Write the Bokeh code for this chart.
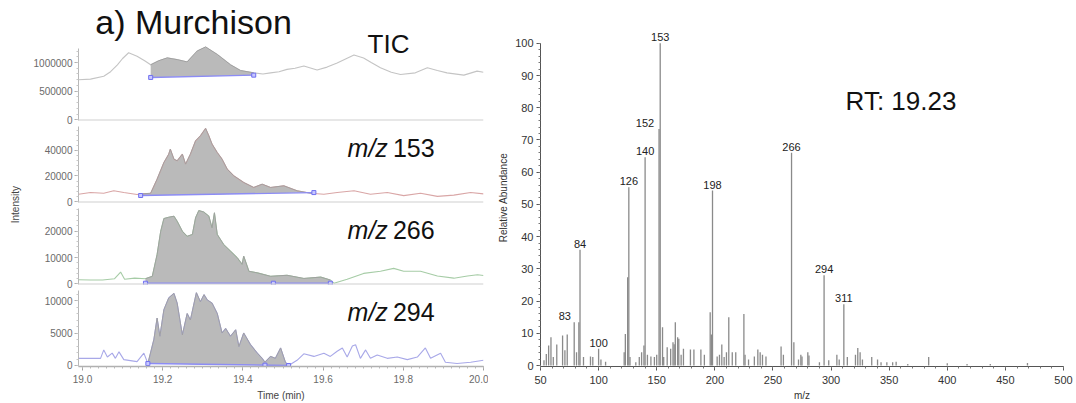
import numpy as np
from bokeh.plotting import figure
from bokeh.layouts import row, column
from bokeh.models import (Range1d, FixedTicker, NumeralTickFormatter, Label,
                          LabelSet, ColumnDataSource, Span, SingleIntervalTicker)
from bokeh.core.properties import value
from bokeh.embed import file_html
from bokeh.resources import INLINE

FONT = "Liberation Sans"

# ---------------- data ----------------
tic_t = [18.99, 19.02, 19.053, 19.07, 19.087, 19.10, 19.115, 19.136, 19.155, 19.170,
         19.19, 19.211, 19.236, 19.261, 19.286, 19.307, 19.336, 19.369, 19.394, 19.427,
         19.45, 19.469, 19.49, 19.510, 19.530, 19.552, 19.585, 19.61, 19.635, 19.677,
         19.701, 19.72, 19.743, 19.77, 19.793, 19.83, 19.860, 19.885, 19.909, 19.951,
         19.984, 20.0]
tic_v = [700000, 710000, 760000, 840000, 960000, 1070000, 1170000, 1110000, 1030000, 960000,
         1030000, 1080000, 1050000, 1010000, 1200000, 1270000, 1140000, 960000, 860000, 820000,
         800000, 820000, 840000, 880000, 900000, 940000, 870000, 920000, 990000, 1130000,
         1080000, 1000000, 910000, 830000, 790000, 820000, 910000, 860000, 820000, 780000,
         850000, 830000]

t153 = [18.99, 19.020, 19.053, 19.078, 19.103, 19.136, 19.150, 19.170, 19.186, 19.203,
        19.215, 19.219, 19.228, 19.236, 19.249, 19.257, 19.269, 19.282, 19.294, 19.307,
        19.315, 19.323, 19.336, 19.348, 19.361, 19.377, 19.402, 19.427, 19.448, 19.469,
        19.502, 19.535, 19.569, 19.602, 19.635, 19.677, 19.718, 19.760, 19.801, 19.843,
        19.885, 19.926, 19.968, 20.0]
v153 = [5700, 7100, 6500, 8400, 7100, 5500, 6000, 6500, 17500, 30600,
        37100, 41000, 33200, 31900, 37100, 29300, 37100, 47600, 51500, 57300,
        51500, 45000, 38400, 33200, 25300, 20200, 14900, 11000, 13600, 11000,
        12300, 8400, 6500, 5700, 7100, 8400, 5700, 7100, 4600, 6500,
        4000, 5000, 7100, 6000]

t266 = [18.99, 19.02, 19.05, 19.08, 19.095, 19.105, 19.13, 19.157, 19.174, 19.186,
        19.195, 19.203, 19.215, 19.228, 19.236, 19.249, 19.261, 19.274, 19.282, 19.290,
        19.302, 19.315, 19.323, 19.329, 19.336, 19.352, 19.369, 19.386, 19.398, 19.402,
        19.415, 19.436, 19.469, 19.510, 19.552, 19.594, 19.618, 19.627, 19.660, 19.701,
        19.743, 19.776, 19.801, 19.843, 19.885, 19.926, 19.960, 19.985, 20.0]
v266 = [1600, 1500, 1500, 2000, 4500, 1800, 2200, 2000, 2900, 11100,
        19900, 24700, 25200, 25600, 23700, 19900, 18000, 18700, 25000, 27700,
        27200, 25600, 21200, 26900, 18700, 14900, 12400, 9900, 7400, 10500,
        4800, 4200, 2900, 3300, 2100, 2600, 1500, 300, 1800, 4000,
        4800, 5900, 4800, 4800, 3000, 2200, 3000, 3500, 3200]

t294 = [18.99, 19.045, 19.053, 19.062, 19.074, 19.082, 19.091, 19.103, 19.136, 19.153,
        19.163, 19.178, 19.186, 19.193, 19.203, 19.215, 19.228, 19.236, 19.249, 19.261,
        19.269, 19.284, 19.294, 19.303, 19.311, 19.323, 19.336, 19.348, 19.357, 19.369,
        19.382, 19.390, 19.402, 19.419, 19.436, 19.448, 19.455, 19.469, 19.481, 19.494,
        19.506, 19.514, 19.535, 19.552, 19.577, 19.602, 19.618, 19.635, 19.648, 19.660,
        19.673, 19.681, 19.693, 19.706, 19.718, 19.735, 19.760, 19.785, 19.810, 19.835,
        19.855, 19.868, 19.893, 19.905, 19.934, 19.968, 19.988, 20.0]
v294 = [1100, 1100, 2400, 1300, 1900, 1100, 2100, 900, 600, 1900,
        300, 4000, 7300, 4500, 8600, 10400, 11100, 9600, 4700, 8000,
        7000, 11200, 9800, 10900, 10100, 9600, 8000, 5000, 5700, 4500,
        5500, 2900, 5000, 3200, 1900, 1100, 500, 1400, 1100, 2700,
        500, 0, 800, 1800, 1400, 1900, 1400, 2200, 2700, 1300,
        3000, 3200, 1100, 2400, 1100, 1600, 1100, 1300, 900, 1300,
        2700, 1100, 1900, 500, 300, 500, 700, 800]

# integration windows: (start, end, baseline at start, baseline at end)
tic_win = (19.170, 19.427, 740000, 780000)
win153 = (19.145, 19.577, 4700, 7000)
win266 = (19.157, 19.618, 300, 300)
win294 = (19.163, 19.514, 300, 0)
mid266 = [19.476]
mid294 = [19.455]

# mass spectrum (RT 19.23)
ms_mz = [53, 55, 57, 59, 61, 64, 69, 71, 73, 79, 81, 83, 84, 87, 93, 95, 100, 102, 106,
         122, 123, 125, 126, 127, 132, 135, 137, 139, 140, 142, 145, 148, 150, 152, 153,
         155, 156, 159, 162, 164, 165, 166, 168, 169, 171, 173, 179, 182, 188, 191, 196,
         197, 198, 202, 204, 206, 208, 210, 212, 215, 218, 225, 226, 229, 234, 237, 239,
         241, 244, 257, 259, 266, 268, 272, 274, 275, 280, 281, 290, 294, 298, 305, 307,
         311, 314, 321, 323, 325, 327, 335, 340, 343, 348, 353, 356, 366, 384, 400, 417,
         437, 469]
ms_ab = [1.6, 3.6, 6.2, 8.8, 2.6, 6.5, 9.3, 4.7, 9.6, 13.4, 4.1, 13.4, 35.9, 2.6, 2.8, 2.6, 5.2, 1.9, 1.2,
         4.1, 9.8, 27.4, 55.3, 2.6, 1.0, 2.6, 4.1, 6.2, 64.6, 3.3, 2.8, 2.6, 3.3, 73.4, 100.0,
         11.9, 2.6, 5.7, 5.2, 7.2, 6.6, 13.4, 8.8, 8.3, 3.3, 5.2, 5.0, 5.0, 5.0, 3.3, 16.5,
         9.6, 54.3, 2.8, 3.3, 6.5, 2.6, 4.1, 15.0, 4.1, 4.1, 16.0, 3.3, 1.9, 2.8, 5.0, 4.1,
         3.3, 2.8, 5.9, 3.3, 66.0, 7.2, 1.9, 3.3, 2.8, 4.1, 3.1, 1.0, 28.0, 1.6, 3.3, 1.9,
         19.0, 2.6, 3.3, 5.4, 4.1, 1.9, 2.6, 1.9, 1.0, 1.0, 1.0, 1.2, 0.5, 2.6, 0.7, 0.5,
         0.5, 0.8]
lab_mz = [153, 140, 126, 198, 266, 84, 100, 294, 311]
lab_shift_mz = [152, 83]

H_ALL = 403

# ---------------- helpers ----------------
def style_left(p, ticks, minor, bounds):
    p.outline_line_color = None
    p.xgrid.visible = False
    p.ygrid.visible = False
    ax = p.yaxis[0]
    ax.ticker = FixedTicker(ticks=ticks, minor_ticks=minor)
    ax.formatter = NumeralTickFormatter(format="0")
    ax.bounds = bounds
    ax.axis_line_color = "#b8b8b8"
    ax.major_tick_line_color = "#b0b0b0"
    ax.minor_tick_line_color = "#c8c8c8"
    ax.major_tick_out = 4
    ax.major_tick_in = 0
    ax.minor_tick_out = 2
    ax.minor_tick_in = 0
    ax.major_label_text_font = FONT
    ax.major_label_text_font_size = "10px"
    ax.major_label_text_color = "#6a6a6a"
    ax.major_label_standoff = 2


def draw_trace(p, t, v, color, win, mids=None):
    t = np.asarray(t, float)
    v = np.asarray(v, float)
    t0, t1, b0, b1 = win
    inside = t[(t > t0) & (t < t1)]
    ts = np.concatenate([[t0], inside, [t1]])
    vs = np.interp(ts, t, v)
    base = np.interp(ts, [t0, t1], [b0, b1])
    p.varea(x=ts, y1=base, y2=vs, fill_color="#bababa")
    p.line(t, v, line_color=color, line_width=1.1)
    p.line(ts, vs, line_color="#a0a0a0", line_width=1)
    p.line([t0, t1], [b0, b1], line_color="#8c8cf5", line_width=1.4)
    mx = [t0, t1] + (mids or [])
    my = list(np.interp(mx, [t0, t1], [b0, b1]))
    p.scatter(mx, my, marker="square", size=4, fill_color="#c8c8ff",
              line_color="#7070f0", line_width=1)


def mz_label(p, x_mz, x_num, y, num):
    p.add_layout(Label(x=x_mz, y=y, text="m/z", text_font=FONT, text_font_size="25px",
                       text_font_style="italic", text_color="#111111",
                       text_baseline="middle", text_align="left"))
    p.add_layout(Label(x=x_num, y=y, text=num, text_font=FONT, text_font_size="25px",
                       text_color="#111111", text_baseline="middle", text_align="left"))


xr = Range1d(18.99, 20.0)
LEFT_KW = dict(width=460, x_range=xr, min_border_left=50, min_border_right=5,
               output_backend="svg", toolbar_location=None)

# ---- TIC (frame reaches the top so the title texts are not clipped) ----
p1 = figure(height=126, y_range=Range1d(-10000, 2080000), min_border_top=0,
            min_border_bottom=6, **LEFT_KW)
style_left(p1, [0, 500000, 1000000], list(range(0, 1300000, 100000)), (-10000, 1250000))
p1.xaxis.visible = False
draw_trace(p1, tic_t, tic_v, "#c4c4c4", tic_win)
p1.add_layout(Span(location=-10000, dimension="width", line_color="#d0d0d0", line_width=2))
p1.add_layout(Label(x=19.032, y=1697000, text="a) Murchison", text_font=FONT,
                    text_font_size="34px", text_color="#111111", text_baseline="middle"))
p1.add_layout(Label(x=19.763, y=1331000, text="TIC", text_font=FONT, text_font_size="26px",
                    text_color="#111111", text_baseline="middle", text_align="center"))

# ---- m/z 153 ----
p2 = figure(height=82, y_range=Range1d(-780, 58800), min_border_top=0,
            min_border_bottom=6, **LEFT_KW)
style_left(p2, [0, 20000, 40000], list(range(0, 60000, 4000)), (-780, 58800))
p2.xaxis.visible = False
draw_trace(p2, t153, v153, "#d9a6a6", win153)
p2.add_layout(Span(location=-780, dimension="width", line_color="#d0d0d0", line_width=2))
mz_label(p2, 19.661, 19.774, 41600, "153")

# ---- m/z 266 ----
p3 = figure(height=82, y_range=Range1d(-190, 28500), min_border_top=0,
            min_border_bottom=6, **LEFT_KW)
style_left(p3, [0, 10000, 20000], list(range(0, 29000, 2000)), (-190, 28500))
p3.xaxis.visible = False
draw_trace(p3, t266, v266, "#a6cca6", win266, mid266)
p3.add_layout(Span(location=-190, dimension="width", line_color="#d0d0d0", line_width=2))
mz_label(p3, 19.661, 19.774, 20200, "266")

# ---- m/z 294 ----
p4 = figure(height=113, y_range=Range1d(-154, 11540), min_border_top=0,
            min_border_bottom=37, x_axis_label="Time (min)", **LEFT_KW)
style_left(p4, [0, 5000, 10000], list(range(0, 12000, 1000)), (-154, 11540))
draw_trace(p4, t294, v294, "#a8a8e8", win294, mid294)
mz_label(p4, 19.661, 19.774, 8200, "294")
xa = p4.xaxis[0]
xa.ticker = FixedTicker(ticks=[19.0, 19.2, 19.4, 19.6, 19.8, 20.0],
                        minor_ticks=[round(19.0 + 0.02 * i, 2) for i in range(51)])
xa.formatter = NumeralTickFormatter(format="0.0")
xa.axis_line_color = "#b0b0b0"
xa.axis_line_width = 1.5
xa.major_tick_line_color = "#a0a0a0"
xa.minor_tick_line_color = "#b8b8b8"
xa.major_tick_out = 4
xa.major_tick_in = 0
xa.minor_tick_out = 2
xa.minor_tick_in = 0
xa.major_label_text_font = FONT
xa.major_label_text_font_size = "10px"
xa.major_label_text_color = "#6a6a6a"
xa.major_label_standoff = 4
xa.axis_label_text_font = FONT
xa.axis_label_text_font_size = "10px"
xa.axis_label_text_font_style = "normal"
xa.axis_label_text_color = "#444444"
xa.axis_label_standoff = 4

# ---- shared "Intensity" label strip ----
p0 = figure(width=28, height=H_ALL, x_range=Range1d(0, 28), y_range=Range1d(0, H_ALL),
            min_border_left=0, min_border_right=0, min_border_top=0, min_border_bottom=0,
            output_backend="svg", toolbar_location=None)
p0.axis.visible = False
p0.grid.visible = False
p0.outline_line_color = None
p0.add_layout(Label(x=15, y=H_ALL - 210, text="Intensity", angle=np.pi / 2, text_font=FONT,
                    text_font_size="10px", text_color="#444444", text_align="center",
                    text_baseline="middle"))

# ---- mass spectrum ----
p5 = figure(width=588, height=H_ALL, x_range=Range1d(50, 500), y_range=Range1d(-0.31, 104.6),
            min_border_left=52, min_border_right=13, min_border_top=28, min_border_bottom=37,
            output_backend="svg", toolbar_location=None,
            x_axis_label="m/z", y_axis_label="Relative Abundance")
p5.outline_line_color = None
p5.grid.visible = False
p5.segment(x0=ms_mz, y0=[0] * len(ms_mz), x1=ms_mz, y1=ms_ab, line_color="#8a8a8a",
           line_width=1.3)
ab_of = dict(zip(ms_mz, ms_ab))
src = ColumnDataSource(dict(x=lab_mz, y=[ab_of[m] for m in lab_mz], t=[str(m) for m in lab_mz]))
p5.add_layout(LabelSet(x="x", y="y", text="t", source=src, text_font=value(FONT),
                       text_font_size=value("11px"), text_color="#222222", text_align="center",
                       text_baseline="bottom", y_offset=2))
src2 = ColumnDataSource(dict(x=lab_shift_mz, y=[ab_of[m] for m in lab_shift_mz],
                             t=[str(m) for m in lab_shift_mz]))
p5.add_layout(LabelSet(x="x", y="y", text="t", source=src2, text_font=value(FONT),
                       text_font_size=value("11px"), text_color="#222222", text_align="center",
                       text_baseline="bottom", y_offset=2, x_offset=-14))
p5.add_layout(Label(x=312.5, y=82.2, text="RT: 19.23", text_font=FONT, text_font_size="26px",
                    text_color="#111111", text_baseline="middle"))
for ax in (p5.xaxis[0], p5.yaxis[0]):
    ax.axis_line_color = "#555555"
    ax.major_tick_line_color = "#555555"
    ax.minor_tick_line_color = "#777777"
    ax.major_tick_out = 4
    ax.major_tick_in = 0
    ax.minor_tick_out = 2
    ax.minor_tick_in = 0
    ax.major_label_text_font = FONT
    ax.major_label_text_font_size = "11px"
    ax.major_label_text_color = "#333333"
    ax.major_label_standoff = 3
    ax.axis_label_text_font = FONT
    ax.axis_label_text_font_size = "10px"
    ax.axis_label_text_font_style = "normal"
    ax.axis_label_text_color = "#333333"
    ax.axis_label_standoff = 3
p5.xaxis[0].major_label_standoff = 5
p5.xaxis[0].ticker = SingleIntervalTicker(interval=50, num_minor_ticks=5)
p5.yaxis[0].ticker = SingleIntervalTicker(interval=10, num_minor_ticks=5)
p5.xaxis[0].bounds = (50, 500)
p5.yaxis[0].bounds = (0, 100)

layout = row(p0, column(p1, p2, p3, p4), p5)
open("out.html", "w").write(file_html(layout, INLINE))
